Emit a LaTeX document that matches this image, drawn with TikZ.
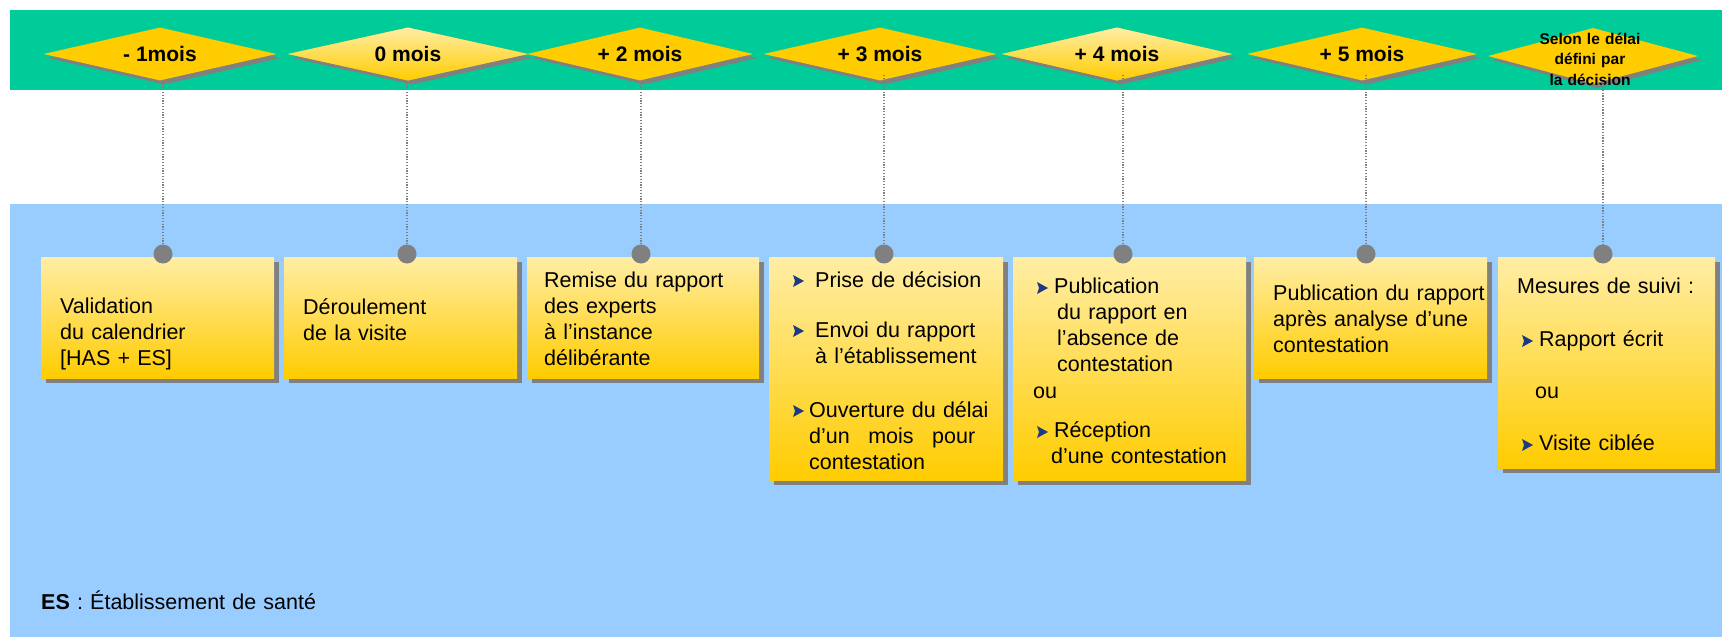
\documentclass[tikz,border=0pt]{standalone}
\usepackage{fontspec}
\setmainfont{Liberation Sans}
\usetikzlibrary{shapes.geometric,shadows}
\definecolor{bandgreen}{RGB}{0,204,153}
\definecolor{bgblue}{RGB}{153,204,255}
\definecolor{gold}{RGB}{255,204,0}
\definecolor{paleyellow}{RGB}{255,237,165}
\definecolor{shadegray}{RGB}{128,128,128}
\definecolor{bulletblue}{RGB}{28,58,130}
\newcommand\bulletmark[2]{\fill[bulletblue] (#1,#2) ++(0,-6) -- ++(11,6) -- ++(-11,6) -- ++(2,-6) -- cycle;}
\begin{document}
\begin{tikzpicture}[x=1pt,y=-1pt,
  ms/.style={shape=diamond, aspect=4.4, minimum height=53pt, inner sep=0pt, fill=gold,
     font=\fontsize{21}{23}\selectfont\bfseries,
     general shadow={fill=shadegray, shadow xshift=4pt, shadow yshift=-4pt}},
  mslight/.style={ms, top color=paleyellow, bottom color=gold},
  ybox/.style={rectangle, anchor=north west, inner sep=0pt, top color=paleyellow, bottom color=gold,
     general shadow={fill=shadegray, shadow xshift=5pt, shadow yshift=-5pt}},
  dotnode/.style={circle, fill=shadegray, minimum size=19pt, inner sep=0pt},
  dotline/.style={draw=shadegray, line width=1.2pt, dash pattern=on 1.3pt off 1.5pt},
  txt/.style={anchor=base west, inner sep=0pt, text width=225pt, align=left,
     font=\fontsize{21.5}{26.3}\selectfont},
]
\useasboundingbox (0,0) rectangle (1722,637);
\fill[white] (0,0) rectangle (1722,637);
% bands
\fill[bandgreen] (10,10) rectangle (1722,90);
\fill[bgblue] (10,204) rectangle (1722,637);

% boxes
\node[ybox, minimum width=233pt, minimum height=121pt] (b1) at (41,257) {};
\node[ybox, minimum width=233pt, minimum height=121pt] (b2) at (284,257) {};
\node[ybox, minimum width=232pt, minimum height=121pt] (b3) at (527,257) {};
\node[ybox, minimum width=234pt, minimum height=223pt] (b4) at (769,257) {};
\node[ybox, minimum width=233pt, minimum height=223pt] (b5) at (1013,257) {};
\node[ybox, minimum width=233pt, minimum height=121pt] (b6) at (1254,257) {};
\node[ybox, minimum width=217pt, minimum height=211pt] (b7) at (1498,257) {};

% circles
\node[dotnode] (c1) at (163,254) {};
\node[dotnode] (c2) at (407,254) {};
\node[dotnode] (c3) at (641,254) {};
\node[dotnode] (c4) at (884,254) {};
\node[dotnode] (c5) at (1123,254) {};
\node[dotnode] (c6) at (1366,254) {};
\node[dotnode] (c7) at (1603,254) {};

% milestones
\node[ms, minimum width=233pt] (d1) at (160,54) {- 1mois};
\node[mslight, minimum width=240pt] (d2) at (408,54) {0 mois};
\node[ms, minimum width=226pt] (d3) at (640,54) {+ 2 mois};
\node[ms, minimum width=233pt] (d4) at (880,54) {+ 3 mois};
\node[mslight, minimum width=230pt] (d5) at (1117,54) {+ 4 mois};
\node[ms, minimum width=230pt] (d6) at (1362,54) {+ 5 mois};
\node[ms, minimum width=210pt, minimum height=56pt] (d7) at (1593,56) {};
\node[anchor=base, inner sep=0pt, text width=130pt, align=center,
      font=\fontsize{15.5}{20.5}\selectfont\bfseries] (d7t) at (1590,44)
      {Selon le délai\\défini par\\la décision};

% dotted connectors
\draw[dotline] (d1.south -| c1) -- (c1.north);
\draw[dotline] (d2.south -| c2) -- (c2.north);
\draw[dotline] (d3.south -| c3) -- (c3.north);
\draw[dotline] ([yshift=6pt]d4.south -| c4) -- (c4.north);
\draw[dotline] ([yshift=6pt]d5.south -| c5) -- (c5.north);
\draw[dotline] ([yshift=6pt]d6.south -| c6) -- (c6.north);
\draw[dotline] (d7.south -| c7) -- (c7.north);

% box texts
\node[txt] (t1) at (60,313) {Validation\\du calendrier\\\relax[HAS + ES]};
\node[txt] (t2) at (303,314) {Déroulement\\de la visite};
\node[txt] (t3) at (544,287) {Remise du rapport\\des experts\\à l’instance\\délibérante};

\bulletmark{793}{281}
\node[txt] (t4a) at (815,287) {Prise de décision};
\bulletmark{793}{331}
\node[txt] (t4b) at (815,337) {Envoi du rapport\\à l’établissement};
\bulletmark{793}{411}
\node[txt] (t4c) at (809,417) {Ouverture du délai\\\makebox[166pt][l]{d’un\hfill mois\hfill pour}\\contestation};

\bulletmark{1037}{288}
\node[txt] (t5a) at (1054,293) {Publication};
\node[txt] (t5b) at (1057,319) {du rapport en\\l’absence de\\contestation};
\node[txt] (t5c) at (1033,398) {ou};
\bulletmark{1037}{432}
\node[txt] (t5d) at (1054,437) {Réception};
\node[txt] (t5e) at (1051,463) {d’une contestation};

\node[txt] (t6) at (1273,300) {Publication du rapport\\après analyse d’une\\contestation};

\node[txt] (t7a) at (1517,293) {Mesures de suivi :};
\bulletmark{1522}{341}
\node[txt] (t7b) at (1539,346) {Rapport écrit};
\node[txt] (t7c) at (1535,398) {ou};
\bulletmark{1522}{445}
\node[txt] (t7d) at (1539,450) {Visite ciblée};

% footnote
\node[txt, text width=400pt] (fn) at (41,609) {\textbf{ES} : Établissement de santé};
\end{tikzpicture}
\end{document}
